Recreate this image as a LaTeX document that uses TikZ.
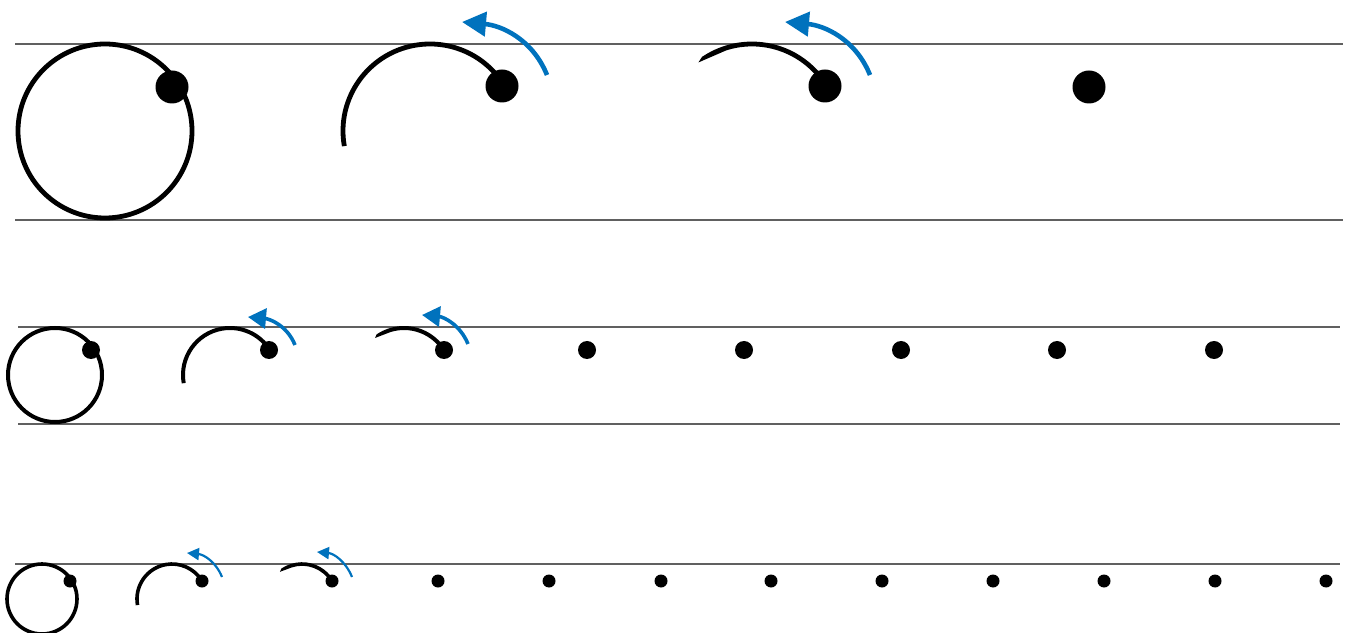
\documentclass[tikz,border=0pt]{standalone}
\usetikzlibrary{arrows.meta}
\definecolor{turnblue}{RGB}{0,114,189}
\definecolor{rulegray}{RGB}{96,96,96}
\begin{document}
\begin{tikzpicture}[x=0.5pt,y=0.5pt,
  rule/.style={rulegray,line width=1.2pt},
  ringA/.style={line width=2.4pt},
  ringB/.style={line width=2pt},
  ringC/.style={line width=1.8pt},
  dotA/.style={circle,fill,inner sep=0pt,minimum size=16.5pt},
  dotB/.style={circle,fill,inner sep=0pt,minimum size=9pt},
  dotC/.style={circle,fill,inner sep=0pt,minimum size=6.5pt},
  turnA/.style={turnblue,line width=2.3pt,-{Triangle[length=12pt,width=12pt]}},
  turnB/.style={turnblue,line width=1.8pt,-{Triangle[length=9pt,width=10pt]}},
  turnC/.style={turnblue,line width=1.1pt,-{Triangle[length=6pt,width=6pt]}}]
\useasboundingbox (0,0) rectangle (1352,632);
% guide lines
\draw[rule] (15,588) -- (1343,588);
\draw[rule] (15,412) -- (1343,412);
\draw[rule] (18,305) -- (1340,305);
\draw[rule] (18,208) -- (1340,208);
\draw[rule] (15,68) -- (1340,68);
% first row
\coordinate (c11) at (105,501);
\coordinate (c12) at (430,501);
\coordinate (c13) at (752,501);
\draw[ringA] (c11) circle[radius=87];
\draw[ringA] (c12) ++(190:87) arc[start angle=190,end angle=32,radius=87];
\fill (c13) ++(31:89.4) arc[start angle=31,end angle=124,radius=89.4] -- ([shift={(128:87)}]c13) -- ([shift={(108:84.6)}]c13) arc[start angle=108,end angle=31,radius=84.6] -- cycle;
\node[dotA] (d11) at (172,545) {};
\node[dotA] (d12) at (502,546) {};
\node[dotA] (d13) at (825,546) {};
\node[dotA] (d14) at (1089,545) {};
\coordinate (s12) at (547,557);
\coordinate (t12) at (462,610);
\coordinate (s13) at (870,557);
\coordinate (t13) at (785,610);
\draw[turnA] (s12) to[out=112,in=-5] (t12);
\draw[turnA] (s13) to[out=112,in=-5] (t13);
% second row
\coordinate (c21) at (55,257);
\coordinate (c22) at (230,257);
\coordinate (c23) at (404,257);
\draw[ringB] (c21) circle[radius=47];
\draw[ringB] (c22) ++(190:47) arc[start angle=190,end angle=32,radius=47];
\fill (c23) ++(31:49) arc[start angle=31,end angle=124,radius=49] -- ([shift={(128:47)}]c23) -- ([shift={(108:45)}]c23) arc[start angle=108,end angle=31,radius=45] -- cycle;
\node[dotB] (d21) at (91,282) {};
\node[dotB] (d22) at (269,282) {};
\node[dotB] (d23) at (444,282) {};
\foreach \x [count=\i from 4] in {587,744,901,1057,1214}
  \node[dotB] (d2\i) at (\x,282) {};
\coordinate (s22) at (295,287);
\coordinate (t22) at (248,315);
\coordinate (s23) at (468,288);
\coordinate (t23) at (422,317);
\draw[turnB] (s22) to[out=112,in=-5] (t22);
\draw[turnB] (s23) to[out=112,in=-5] (t23);
% third row
\coordinate (c31) at (42,33);
\coordinate (c32) at (172,33);
\coordinate (c33) at (302,33);
\draw[ringC] (c31) circle[radius=35];
\draw[ringC] (c32) ++(190:35) arc[start angle=190,end angle=32,radius=35];
\fill (c33) ++(31:36.8) arc[start angle=31,end angle=124,radius=36.8] -- ([shift={(129:35)}]c33) -- ([shift={(108:33.2)}]c33) arc[start angle=108,end angle=31,radius=33.2] -- cycle;
\node[dotC] (d31) at (70,51) {};
\node[dotC] (d32) at (202,51) {};
\node[dotC] (d33) at (332,51) {};
\foreach \x [count=\i from 4] in {438,549,661,771,882,993,1104,1215,1326}
  \node[dotC] (d3\i) at (\x,51) {};
\coordinate (s32) at (222,55);
\coordinate (t32) at (187,79);
\coordinate (s33) at (352,55);
\coordinate (t33) at (317,80);
\draw[turnC] (s32) to[out=112,in=-5] (t32);
\draw[turnC] (s33) to[out=112,in=-5] (t33);
\end{tikzpicture}
\end{document}
